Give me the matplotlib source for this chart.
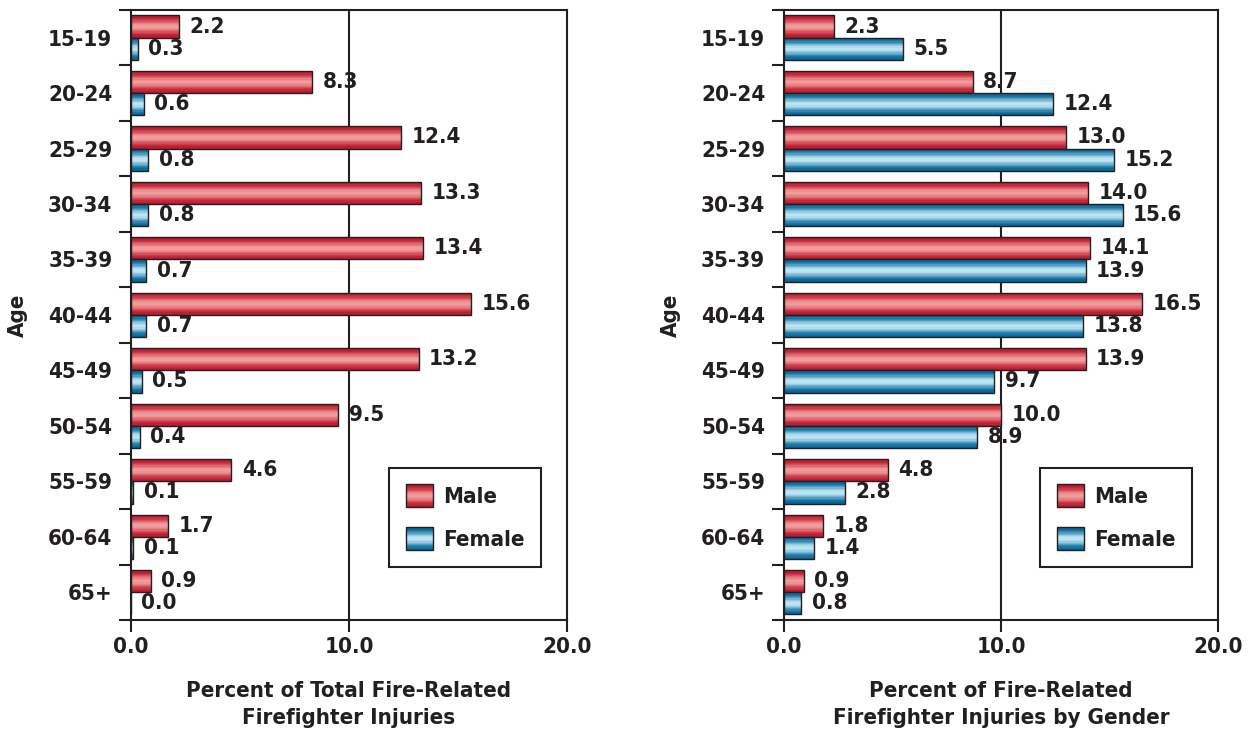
import numpy as np
import matplotlib
matplotlib.use('Agg')
import matplotlib.pyplot as plt
from matplotlib.patches import Rectangle
from matplotlib.legend_handler import HandlerPatch
from matplotlib.colors import to_rgb

plt.rcParams['font.family'] = ['DejaVu Sans']
plt.rcParams['font.stretch'] = 'condensed'
plt.rcParams['font.weight'] = 'bold'

'''
Firefighter injuries by age group
'''
ages = ['15-19', '20-24', '25-29', '30-34', '35-39', '40-44',
        '45-49', '50-54', '55-59', '60-64', '65+']
total_male = [2.2, 8.3, 12.4, 13.3, 13.4, 15.6, 13.2, 9.5, 4.6, 1.7, 0.9]
total_female = [0.3, 0.6, 0.8, 0.8, 0.7, 0.7, 0.5, 0.4, 0.1, 0.1, 0.0]
gender_male = [2.3, 8.7, 13.0, 14.0, 14.1, 16.5, 13.9, 10.0, 4.8, 1.8, 0.9]
gender_female = [5.5, 12.4, 15.2, 15.6, 13.9, 13.8, 9.7, 8.9, 2.8, 1.4, 0.8]
xticks = [0, 10, 20]
xlabels = ['Percent of Total Fire-Related\nFirefighter Injuries',
           'Percent of Fire-Related\nFirefighter Injuries by Gender']

INK = '#231f20'
RED = ('#bd1a2e', '#f29c9c')
BLUE = ('#04679a', '#bfe5f4')
N_STRIPS = 18
BAR_H = 0.4
FS = 16


def shades(edge, mid, n):
    # dark at both edges, light through the middle (tube look)
    e, m = np.array(to_rgb(edge)), np.array(to_rgb(mid))
    t = (np.arange(n) + 0.5) / n
    w = np.sin(np.pi * t) ** 2.5
    return [tuple(e + (m - e) * wi) for wi in w]


def tube_barh(ax, y, widths, colors):
    cols = shades(*colors, N_STRIPS)
    for k, c in enumerate(cols):
        off = -BAR_H / 2 + (k + 0.5) * BAR_H / N_STRIPS
        ax.barh(y + off, widths, height=BAR_H / N_STRIPS, color=c, linewidth=0)
    ax.barh(y, widths, height=BAR_H, facecolor='none', edgecolor=INK, linewidth=1)


class HandlerTube(HandlerPatch):
    def __init__(self, colors):
        super().__init__()
        self.colors = colors

    def create_artists(self, legend, orig_handle, xdescent, ydescent,
                       width, height, fontsize, trans):
        arts = []
        cols = shades(*self.colors, N_STRIPS)
        for k, c in enumerate(cols):
            arts.append(Rectangle((-xdescent, -ydescent + height * (N_STRIPS - 1 - k) / N_STRIPS),
                                  width, height / N_STRIPS, facecolor=c, linewidth=0,
                                  transform=trans))
        arts.append(Rectangle((-xdescent, -ydescent), width, height, facecolor='none',
                              edgecolor=INK, linewidth=1, transform=trans))
        return arts


fig = plt.figure(figsize=(12.5, 7.35), dpi=100)
ax1 = fig.add_axes([0.1048, 0.1565, 0.3488, 0.830])
ax2 = fig.add_axes([0.6272, 0.1565, 0.3472, 0.830])

y = np.arange(len(ages))
for ax, male, female, xl in [(ax1, total_male, total_female, xlabels[0]),
                             (ax2, gender_male, gender_female, xlabels[1])]:
    tube_barh(ax, y - BAR_H / 2, male, RED)
    tube_barh(ax, y + BAR_H / 2, female, BLUE)
    for yi, v in zip(y, male):
        ax.annotate(f'{v:.1f}', (v, yi - BAR_H / 2), xytext=(7.5, 0), textcoords='offset points',
                    ha='left', va='center', fontsize=FS, color=INK)
    for yi, v in zip(y, female):
        ax.annotate(f'{v:.1f}', (v, yi + BAR_H / 2), xytext=(7.5, 0), textcoords='offset points',
                    ha='left', va='center', fontsize=FS, color=INK)

    ax.set_xlim(0, 20)
    ax.set_ylim(len(ages) - 0.5, -0.5)
    ax.set_xticks(xticks)
    ax.set_xticklabels([f'{t:.1f}' for t in xticks], fontsize=FS, color=INK)
    ax.set_yticks(np.arange(len(ages) + 1) - 0.5)
    ax.set_yticklabels([])
    ax.set_yticks(y, minor=True)
    ax.set_yticklabels(ages, minor=True, fontsize=FS, color=INK)
    ax.tick_params(axis='y', which='major', length=8.6, width=1.5, color=INK)
    ax.tick_params(axis='y', which='minor', length=0, pad=13.5)
    ax.tick_params(axis='x', length=8.6, width=1.5, color=INK, pad=4)
    for s in ax.spines.values():
        s.set_linewidth(1.5)
        s.set_color(INK)
    ax.axvline(10, color=INK, linewidth=1.5, zorder=0)

    ax.set_xlabel(xl, fontsize=FS, fontweight='bold', color=INK, linespacing=1.45)
    ax.xaxis.set_label_coords(0.5, -0.1)
    ax.set_ylabel('Age', fontsize=FS, fontweight='bold', color=INK)
    ax.yaxis.set_label_coords(-0.237, 0.5)

    h_male = Rectangle((0, 0), 1, 1)
    h_female = Rectangle((0, 0), 1, 1)
    leg = ax.legend([h_male, h_female], ['Male', 'Female'],
                    handler_map={h_male: HandlerTube(RED), h_female: HandlerTube(BLUE)},
                    loc='lower right', bbox_to_anchor=(0.94, 0.087), borderaxespad=0,
                    fontsize=FS, handlelength=1.2, handleheight=1.2, labelspacing=0.9,
                    handletextpad=0.45, borderpad=0.75, fancybox=False, framealpha=1)
    leg.get_frame().set_edgecolor(INK)
    leg.get_frame().set_linewidth(1.5)
    for t in leg.get_texts():
        t.set_color(INK)

fig.savefig('out.png', dpi=100)
